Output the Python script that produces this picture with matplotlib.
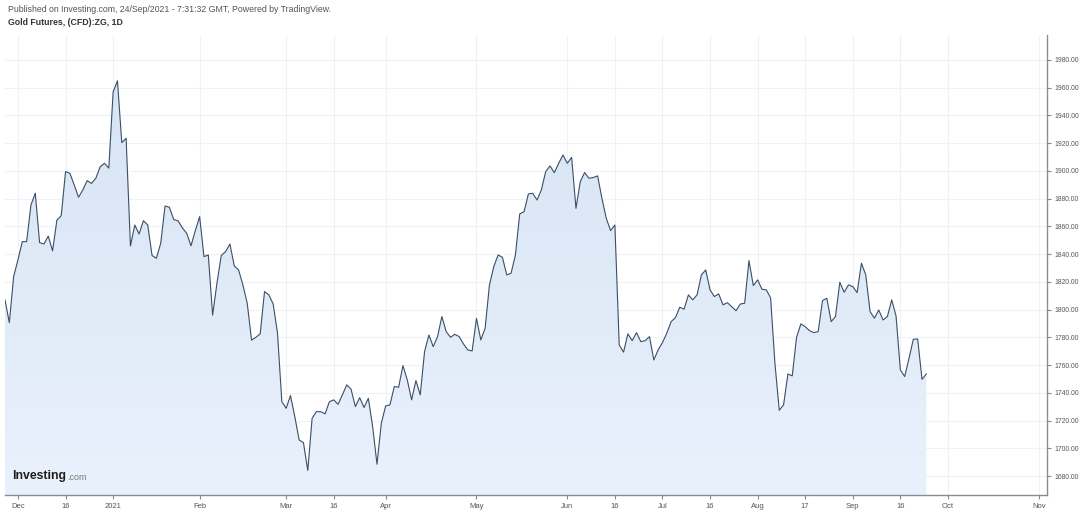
import numpy as np
import pandas as pd
import matplotlib
matplotlib.use("Agg")
import matplotlib.pyplot as plt
from matplotlib.colors import LinearSegmentedColormap

plt.rcParams["font.family"] = ["Liberation Sans", "DejaVu Sans"]

# daily closes, one per trading bar (26 Nov 2020 .. 24 Sep 2021)
price = [1807, 1790.6, 1823.8, 1836, 1849, 1849, 1875.5, 1883.9, 1848.3, 1847.3,
         1853, 1842.3, 1864.6, 1867.7, 1899.5, 1898.3, 1889.9, 1881, 1886.3, 1893,
         1891, 1894.7, 1903, 1905.5, 1902, 1957, 1965, 1920.4, 1923.5, 1845.9,
         1861, 1854.5, 1864.1, 1861, 1839, 1837, 1847.8, 1874.7, 1873.8, 1865,
         1864, 1859, 1855, 1846, 1857, 1867, 1838.2, 1839.4, 1796, 1819,
         1839, 1841.8, 1847.3, 1831.5, 1828.6, 1817.8, 1804.6, 1778, 1780, 1782.5,
         1813, 1810.6, 1804, 1783, 1733.6, 1728.8, 1738, 1722.8, 1706, 1704,
         1684, 1721.6, 1726.4, 1726.4, 1724.8, 1733.6, 1734.9, 1731.7, 1738.5, 1745.7,
         1742.6, 1730, 1736.5, 1729.4, 1736, 1715.6, 1688.5, 1718, 1730.5, 1731.3,
         1744.5, 1744, 1759.6, 1749.3, 1734.9, 1748.8, 1738.5, 1769.7, 1781.7, 1773.3,
         1780.5, 1795, 1784.1, 1780, 1782.2, 1780.5, 1775.2, 1770.9, 1770.2, 1793.7,
         1778.1, 1786.5, 1817.8, 1831, 1839.4, 1837.7, 1825, 1826.2, 1839.4, 1869,
         1870.6, 1883.4, 1883.9, 1879, 1886.3, 1899.5, 1903.6, 1898.7, 1905.5, 1911.5,
         1905.5, 1909.8, 1873, 1892.3, 1898.8, 1894.7, 1895.2, 1896.4, 1880.3, 1865.9,
         1857, 1861, 1774.5, 1769.3, 1782.5, 1777.6, 1783.4, 1776.9, 1777.6, 1780.5,
         1763.7, 1770.9, 1776.2, 1783, 1791.3, 1794.2, 1801.7, 1800.3, 1810.6, 1807,
         1810.6, 1825, 1828.6, 1814.2, 1809.4, 1811.3, 1803.4, 1805, 1802.1, 1799.2,
         1804, 1804.6, 1835.3, 1817.3, 1821.4, 1814.7, 1814.2, 1808.5, 1761.3, 1727.4,
         1731.3, 1753.6, 1752.2, 1780, 1789.7, 1787.7, 1784.8, 1783.4, 1784.1, 1806.5,
         1808.2, 1791.3, 1795, 1819.7, 1812.5, 1817.8, 1816.6, 1812.2, 1833.4, 1825,
         1798.5, 1793.8, 1799.7, 1792.5, 1795, 1807, 1795.4, 1756.5, 1751.7, 1764.9,
         1778.6, 1778.8, 1749.7, 1753.6]

holidays = ["2020-12-25", "2021-01-01", "2021-04-02"]
tick_dates = ["2020-12-01", "2020-12-16", "2021-01-04", "2021-02-01", "2021-03-01",
              "2021-03-16", "2021-04-01", "2021-05-03", "2021-06-01", "2021-06-16",
              "2021-07-01", "2021-07-16", "2021-08-02", "2021-08-17", "2021-09-01",
              "2021-09-16", "2021-10-01", "2021-11-01"]
tick_labels = ["Dec", "16", "2021", "Feb", "Mar", "16", "Apr", "May", "Jun", "16",
               "Jul", "16", "Aug", "17", "Sep", "16", "Oct", "Nov"]
y_ticks = np.arange(1680, 1981, 20)

# trading bars (weekends and a few holidays skipped, like TradingView)
bars = pd.bdate_range("2020-11-26", "2021-11-10")
bars = bars[~bars.isin(pd.to_datetime(holidays))]
tick_pos = bars.searchsorted(pd.to_datetime(tick_dates))
x = np.arange(len(price))

fig = plt.figure(figsize=(10.8, 5.13), dpi=100)
ax = fig.add_axes([5 / 1080, 18 / 513, 1042 / 1080, 460 / 513])
ax.set_xlim(0, 240.9)
ax.set_ylim(1666.3, 1998.0)

# gradient area under the line
poly = ax.fill_between(x, price, 1600, color="none", lw=0)
cmap = LinearSegmentedColormap.from_list("fill", ["#e9f1fc", "#d5e3f3"])
grad = np.linspace(0, 1, 256).reshape(-1, 1)
im = ax.imshow(grad, extent=[0, x[-1], 1666.3, 1998.0], origin="lower",
               aspect="auto", cmap=cmap, zorder=1)
im.set_clip_path(poly.get_paths()[0], transform=ax.transData)
ax.plot(x, price, color="#3b4f66", lw=0.8, zorder=3)

ax.set_xticks(tick_pos)
ax.set_xticklabels(tick_labels)
ax.set_yticks(y_ticks)
ax.set_yticklabels(["%.2f" % v for v in y_ticks])
ax.yaxis.tick_right()
ax.grid(color="#eef1f5", lw=0.8, zorder=0)
ax.set_axisbelow(True)
ax.tick_params(axis="x", labelsize=5.5, colors="#8a8a8a", labelcolor="#555555",
               length=3, pad=3)
ax.tick_params(axis="y", labelsize=4.9, colors="#8a8a8a", labelcolor="#555555",
               length=3, pad=2)
for s in ["top", "left"]:
    ax.spines[s].set_visible(False)
for s in ["right", "bottom"]:
    ax.spines[s].set_color("#8c8c8c")
    ax.spines[s].set_linewidth(1)

# header texts
fig.text(8 / 1080, 1 - 9 / 513,
         "Published on Investing.com, 24/Sep/2021 - 7:31:32 GMT, Powered by TradingView.",
         fontsize=6.3, color="#555555", va="center")
fig.text(8 / 1080, 1 - 23 / 513, "Gold Futures, (CFD):ZG, 1D",
         fontsize=6.3, color="#333333", fontweight="bold", va="center")

# watermark
fig.text(12 / 1080, 1 - 476 / 513, "Investing", fontsize=8.8, fontweight="bold",
         color="#1e1e1e", va="center", zorder=5)
fig.text(67 / 1080, 1 - 477 / 513, ".com", fontsize=6.5, color="#7a7a7a",
         va="center", zorder=5)

fig.savefig("out.png", dpi=100)
